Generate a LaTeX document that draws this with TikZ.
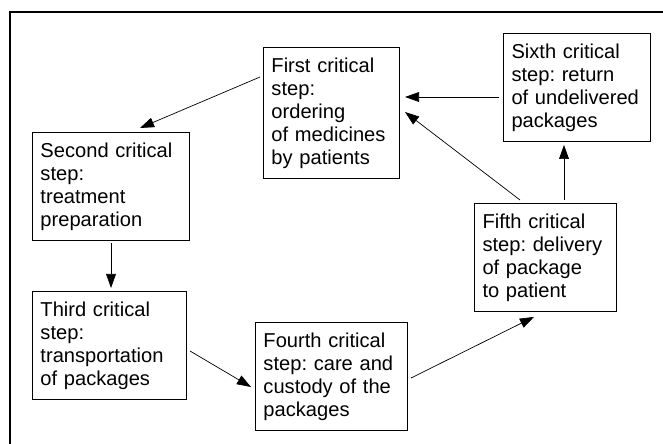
\documentclass[tikz,border=0pt]{standalone}
\usepackage{fontspec}
\setsansfont{Liberation Sans}
\tikzset{every picture/.style={/utils/exec={\sffamily\frenchspacing}}}
\usetikzlibrary{calc}
\usetikzlibrary{positioning}
\usetikzlibrary{arrows.meta}

\tikzset{
  stepbox/.style={draw, line width=0.7pt, anchor=north west, align=left,
    inner xsep=0.2cm, inner ysep=0.25cm, text width=#1,
    font=\fontsize{14.3}{16.4}\selectfont},
  arr/.style={-{Triangle[length=10pt,width=7pt]}, line width=0.5pt}
}

\begin{document}
\begin{tikzpicture}[x=0.025cm, y=-0.025cm]
  \useasboundingbox (0,0) rectangle (663,444);

  % outer frame, cut off at the right and bottom
  \draw [line width=2.1pt] (10,470) -- (10,12) -- (690,12);

  \node [stepbox=3.0cm] at (263,47)   (first)  {First critical\\step:\\ordering\\of medicines\\by patients};
  \node [stepbox=3.525cm] at (32,132) (second) {Second critical\\step:\\treatment\\preparation};
  \node [stepbox=3.45cm] at (32,291)  (third)  {Third critical\\step:\\transportation\\of packages};
  \node [stepbox=3.4cm] at (255,322)  (fourth) {Fourth critical\\step: care and\\custody of the\\packages};
  \node [stepbox=3.15cm] at (474,203) (fifth)  {Fifth critical\\step: delivery\\of package\\to patient};
  \node [stepbox=3.275cm] at (503,33) (sixth)  {Sixth critical\\step: return\\of undelivered\\packages};

  \draw [arr] ($(first.north west)+(-3,30)$) -- ($(second.north west)+(108,-4)$);
  \draw [arr] ($(second.south)+(0,2)$) -- ($(second.south |- third.north)+(0,-3)$);
  \draw [arr] ($(third.north east)+(3,60)$) -- ($(fourth.north west)+(-4,65)$);
  \draw [arr] ($(fourth.north east)+(3,56)$) -- ($(fifth.south west)+(60,5)$);
  \draw [arr] ($(fifth.north west)+(90,-3)$) -- ($(sixth.south west)+(61,3)$);
  \draw [arr] ($(sixth.north west)+(-4,64)$) -- ($(first.north east)+(5,50)$);
  \draw [arr] ($(fifth.north west)+(46,-3)$) -- ($(first.north east)+(5,65)$);
\end{tikzpicture}
\end{document}
